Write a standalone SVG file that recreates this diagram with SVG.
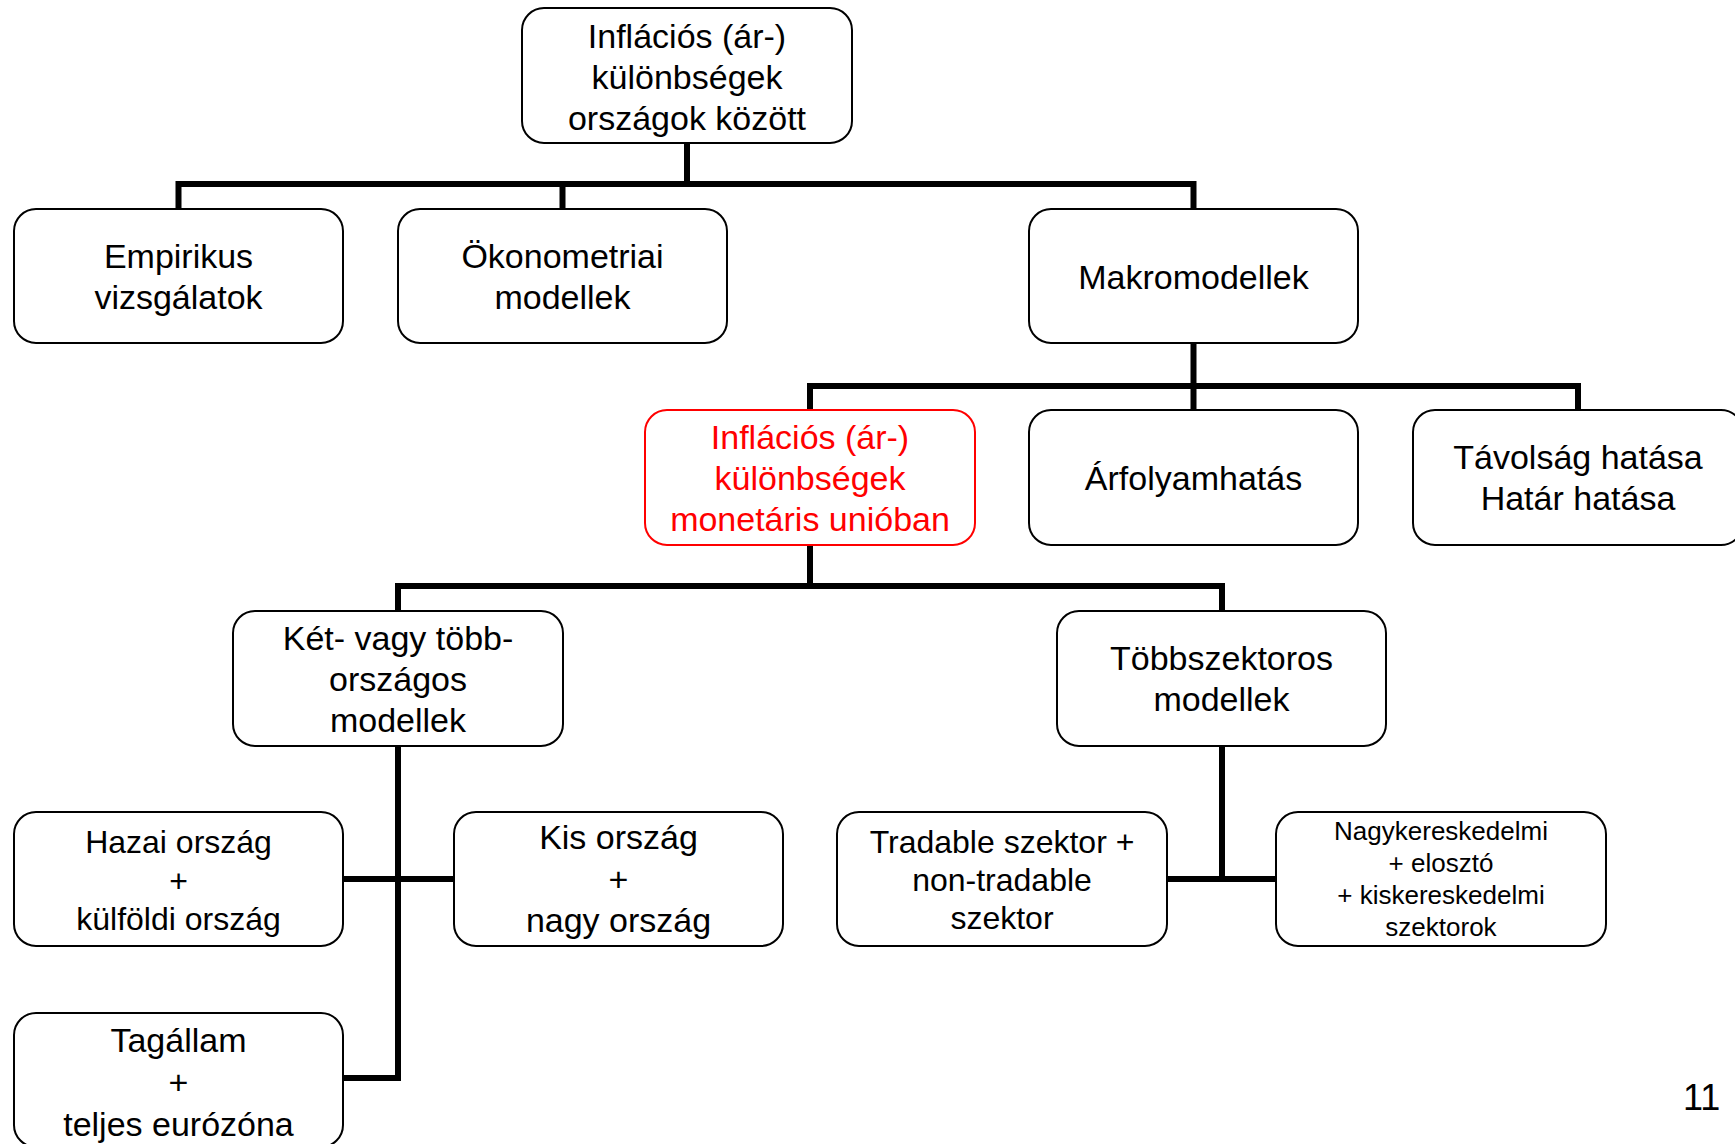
<svg xmlns="http://www.w3.org/2000/svg" width="1735" height="1144" viewBox="0 0 1735 1144">
<style>
  .box{fill:#fff;stroke:#000;stroke-width:2}
  .red{fill:#fff;stroke:#ff0000;stroke-width:2}
  text{font-family:"Liberation Sans",Arial,sans-serif;text-anchor:middle;fill:#000}
  .f34{font-size:34px}
  .f32{font-size:32px}
  .f26{font-size:26px}
  .rt{fill:#ff0000}
  .conn{fill:none;stroke:#000;stroke-width:6;stroke-linejoin:miter;stroke-linecap:butt}
</style>
<rect width="1735" height="1144" fill="#fff"/>
<g id="connectors">
  <path class="conn" d="M687 143 V184 M178.5 209 V184 H1193.5 V209 M562.5 184 V209"/>
  <path class="conn" d="M1193.5 343 V386 M810 410 V386 H1578 V410 M1193.5 386 V410"/>
  <path class="conn" d="M810 545 V586 M398 611 V586 H1222 V611"/>
  <path class="conn" d="M398 746 V1078 H343 M343 879 H454"/>
  <path class="conn" d="M1222 746 V879 M1167 879 H1276"/>
</g>
<g id="n-top">
  <rect class="box" x="522" y="8" width="330" height="135" rx="22"/>
  <text class="f34"><tspan x="687" y="48">Inflációs (ár-)</tspan><tspan x="687" y="89">különbségek</tspan><tspan x="687" y="130">országok között</tspan></text>
</g>
<g id="n-empirikus">
  <rect class="box" x="14" y="209" width="329" height="134" rx="22"/>
  <text class="f34"><tspan x="178.5" y="268">Empirikus</tspan><tspan x="178.5" y="309">vizsgálatok</tspan></text>
</g>
<g id="n-okonometriai">
  <rect class="box" x="398" y="209" width="329" height="134" rx="22"/>
  <text class="f34"><tspan x="562.5" y="268">Ökonometriai</tspan><tspan x="562.5" y="309">modellek</tspan></text>
</g>
<g id="n-makro">
  <rect class="box" x="1029" y="209" width="329" height="134" rx="22"/>
  <text class="f34" x="1193.5" y="289">Makromodellek</text>
</g>
<g id="n-monetaris">
  <rect class="red" x="645" y="410" width="330" height="135" rx="22"/>
  <text class="f34 rt"><tspan x="810" y="449">Inflációs (ár-)</tspan><tspan x="810" y="490">különbségek</tspan><tspan x="810" y="531">monetáris unióban</tspan></text>
</g>
<g id="n-arfolyam">
  <rect class="box" x="1029" y="410" width="329" height="135" rx="22"/>
  <text class="f34" x="1193.5" y="490">Árfolyamhatás</text>
</g>
<g id="n-tavolsag">
  <rect class="box" x="1413" y="410" width="330" height="135" rx="22"/>
  <text class="f34"><tspan x="1578" y="469">Távolság hatása</tspan><tspan x="1578" y="510">Határ hatása</tspan></text>
</g>
<g id="n-ket">
  <rect class="box" x="233" y="611" width="330" height="135" rx="22"/>
  <text class="f34"><tspan x="398" y="650">Két- vagy több-</tspan><tspan x="398" y="691">országos</tspan><tspan x="398" y="732">modellek</tspan></text>
</g>
<g id="n-tobbszektoros">
  <rect class="box" x="1057" y="611" width="329" height="135" rx="22"/>
  <text class="f34"><tspan x="1221.5" y="670">Többszektoros</tspan><tspan x="1221.5" y="711">modellek</tspan></text>
</g>
<g id="n-hazai">
  <rect class="box" x="14" y="812" width="329" height="134" rx="22"/>
  <text class="f32"><tspan x="178.5" y="853">Hazai ország</tspan><tspan x="178.5" y="891.5">+</tspan><tspan x="178.5" y="930">külföldi ország</tspan></text>
</g>
<g id="n-kis">
  <rect class="box" x="454" y="812" width="329" height="134" rx="22"/>
  <text class="f34"><tspan x="618.5" y="849">Kis ország</tspan><tspan x="618.5" y="891">+</tspan><tspan x="618.5" y="932">nagy ország</tspan></text>
</g>
<g id="n-tradable">
  <rect class="box" x="837" y="812" width="330" height="134" rx="22"/>
  <text class="f32"><tspan x="1002" y="853">Tradable szektor +</tspan><tspan x="1002" y="891">non-tradable</tspan><tspan x="1002" y="929">szektor</tspan></text>
</g>
<g id="n-nagyker">
  <rect class="box" x="1276" y="812" width="330" height="134" rx="22"/>
  <text class="f26"><tspan x="1441" y="840">Nagykereskedelmi</tspan><tspan x="1441" y="872">+ elosztó</tspan><tspan x="1441" y="904">+ kiskereskedelmi</tspan><tspan x="1441" y="936">szektorok</tspan></text>
</g>
<g id="n-tagallam">
  <rect class="box" x="14" y="1013" width="329" height="134" rx="22"/>
  <text class="f34"><tspan x="178.5" y="1052">Tagállam</tspan><tspan x="178.5" y="1094">+</tspan><tspan x="178.5" y="1136">teljes eurózóna</tspan></text>
</g>
<text x="1683" y="1110" style="font-size:36px;text-anchor:start">11</text>
</svg>
